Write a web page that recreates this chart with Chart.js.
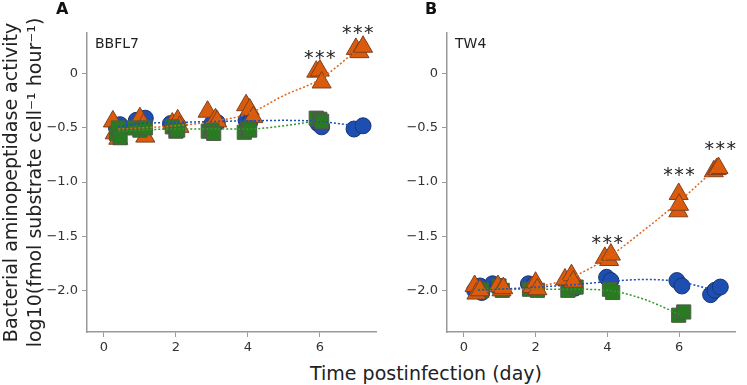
<!DOCTYPE html>
<html>
<head>
<meta charset="utf-8">
<script src="https://cdn.jsdelivr.net/npm/chart.js@4.4.1/dist/chart.umd.min.js"></script>
<style>
  body { margin: 0; background: #fff; width: 747px; height: 385px; overflow: hidden; position: relative; font-family: "DejaVu Sans", sans-serif; }
  canvas { position: absolute; top: 0; }
  #cA { left: 0; }
  #cB { left: 390px; }
  .panel { position: absolute; top: -1px; font-weight: bold; font-size: 16px; color: #111; }
  #xtitle { position: absolute; top: 362px; left: 226px; width: 400px; text-align: center; font-size: 19px; line-height: 22px; color: #222; }
</style>
</head>
<body>
<canvas id="cA" width="388" height="362"></canvas>
<canvas id="cB" width="357" height="362"></canvas>
<div class="panel" style="left:56px">A</div>
<div class="panel" style="left:425px">B</div>
<div id="xtitle">Time postinfection (day)</div>
<script>
// tick labels
const xTicks = [0, 2, 4, 6];
const yTicks = [0, -0.5, -1, -1.5, -2];

// panel A (BBFL7) replicates
const aCircleDay = [0.35, 0.45, 0.9, 1.15, 1.85, 2.05, 3.0, 3.15, 3.95, 4.05, 5.95, 6.05, 6.95, 7.2];
const aCircleVal = [-0.5, -0.47, -0.43, -0.41, -0.46, -0.47, -0.46, -0.45, -0.43, -0.45, -0.46, -0.49, -0.51, -0.48];
const aTriDay = [0.25, 0.3, 0.4, 1.0, 1.1, 1.15, 1.9, 2.05, 2.1, 2.88, 3.1, 3.15, 3.95, 4.05, 4.15, 5.9, 6.0, 6.05, 7.0, 7.1, 7.2];
const aTriVal = [-0.44, -0.55, -0.6, -0.41, -0.47, -0.58, -0.46, -0.43, -0.49, -0.35, -0.42, -0.44, -0.29, -0.33, -0.4, 0.02, 0.03, -0.08, 0.23, 0.2, 0.25];
const aSqDay = [0.35, 0.4, 0.45, 0.85, 1.0, 1.15, 1.9, 2.0, 2.05, 2.9, 3.0, 3.05, 3.9, 4.0, 4.05, 5.9, 6.0, 6.05];
const aSqVal = [-0.55, -0.5, -0.59, -0.5, -0.52, -0.5, -0.49, -0.53, -0.52, -0.53, -0.52, -0.55, -0.54, -0.5, -0.52, -0.41, -0.42, -0.44];
// panel A fitted curves
const aFitDay = [0.4, 1, 2, 3, 4, 5, 6, 7];
const aFitBlue = [-0.49, -0.46, -0.45, -0.44, -0.435, -0.43, -0.44, -0.48];
const aFitOrange = [-0.51, -0.5, -0.48, -0.44, -0.37, -0.2, -0.05, 0.21];
const aFitGreen = [-0.53, -0.52, -0.51, -0.51, -0.51, -0.48, -0.43];
const aStarDay = [6, 7.05];
const aStarVal = [0.17, 0.4];

// panel B (TW4) replicates
const bCircleDay = [0.3, 0.45, 0.5, 0.8, 0.95, 1.8, 1.95, 3.0, 3.1, 3.98, 4.1, 5.94, 6.08, 6.88, 7.0, 7.15];
const bCircleVal = [-2.0, -1.96, -2.02, -1.94, -1.96, -1.94, -1.95, -1.97, -1.98, -1.88, -1.91, -1.91, -1.96, -2.04, -2.0, -1.97];
const bTriDay = [0.3, 0.35, 0.45, 0.95, 1.05, 1.1, 1.9, 2.0, 2.05, 2.82, 3.0, 3.05, 3.93, 4.05, 4.1, 5.98, 5.99, 6.0, 6.97, 7.05, 7.1];
const bTriVal = [-1.96, -2.03, -2.0, -1.96, -2.0, -1.98, -1.97, -1.93, -1.99, -1.9, -1.86, -1.92, -1.7, -1.72, -1.67, -1.27, -1.11, -1.21, -0.9, -0.88, -0.87];
const bSqDay = [0.45, 0.5, 0.98, 1.07, 1.83, 2.05, 2.9, 3.13, 4.06, 4.15, 5.99, 6.13];
const bSqVal = [-1.99, -2.0, -1.96, -2.0, -1.99, -2.0, -2.0, -1.97, -1.99, -2.02, -2.23, -2.2];
// panel B fitted curves
const bFitDay = [0.4, 1, 2, 3, 4, 5, 6, 7];
const bFitBlue = [-2.0, -1.99, -1.97, -1.95, -1.92, -1.9, -1.92, -2.0];
const bFitOrange = [-2.01, -2.0, -1.97, -1.88, -1.7, -1.45, -1.18, -0.88];
const bFitGreen = [-1.99, -1.99, -1.99, -1.99, -2.0, -2.08, -2.22];
const bStarDay = [4, 6, 7.15];
const bStarVal = [-1.54, -0.91, -0.67];

const pts = (xs, ys) => ys.map((y, i) => ({ x: xs[i], y: y }));

const BLUE = '#1d4fb3', ORANGE = '#da5b0b', GREEN = '#2a7a22';

function markers(xs, ys, style, fill, edge, r, order) {
  return {
    data: pts(xs, ys), showLine: false, pointStyle: style, pointRadius: r,
    backgroundColor: fill, borderColor: edge, pointBorderWidth: 1, order: order
  };
}
function fit(xs, ys, color) {
  return {
    data: pts(xs, ys), showLine: true, pointRadius: 0, borderColor: color,
    borderWidth: 1.5, borderDash: [2, 2], cubicInterpolationMode: 'monotone', order: 0
  };
}

const starsPlugin = {
  id: 'stars',
  afterDatasetsDraw(chart, args, opts) {
    const c = chart.ctx, xs = chart.scales.x, ys = chart.scales.y;
    c.save();
    c.fillStyle = '#222';
    c.font = '19px "DejaVu Sans"';
    c.textAlign = 'center';
    c.textBaseline = 'middle';
    opts.days.forEach((d, i) => {
      const px = xs.getPixelForValue(d), py = ys.getPixelForValue(opts.vals[i]);
      [-11, 0, 11].forEach(dx => c.fillText('*', px + dx, py + 4));
    });
    c.font = '14px "DejaVu Sans"';
    c.textAlign = 'left';
    c.fillText(opts.name, chart.chartArea.left + 8, chart.chartArea.top + 11);
    c.restore();
  }
};

function options(yWidth, showTitle, stars) {
  const gridOpts = { drawOnChartArea: false, drawTicks: true, tickLength: 5, color: '#999' };
  return {
    responsive: false, animation: false,
    layout: { padding: { top: 33, right: 2, left: 0, bottom: 0 } },
    plugins: { legend: { display: false }, tooltip: { enabled: false }, stars: stars },
    scales: {
      x: {
        type: 'linear', min: -0.47, max: 7.56,
        grid: gridOpts, border: { color: '#999', width: 1.5 },
        ticks: { color: '#333', font: { family: 'DejaVu Sans', size: 13 }, padding: 3, maxRotation: 0 },
        afterBuildTicks: s => { s.ticks = xTicks.map(v => ({ value: v })); },
        afterFit: s => { s.height = 30; }
      },
      y: {
        type: 'linear', min: -2.385, max: 0.377,
        grid: gridOpts, border: { color: '#999', width: 1.5 },
        ticks: {
          color: '#333', font: { family: 'DejaVu Sans', size: 13 }, padding: 4,
          callback: v => v === 0 ? '0' : v.toFixed(1).replace('-', '\u2212')
        },
        title: {
          display: showTitle, color: '#222', padding: { top: 0, bottom: 0 },
          font: { family: 'DejaVu Sans', size: 19, lineHeight: 1.26 },
          text: ['Bacterial aminopeptidase activity', 'log10(fmol substrate cell\u207B\u00B9 hour\u207B\u00B9)']
        },
        afterBuildTicks: s => { s.ticks = yTicks.map(v => ({ value: v })); },
        afterFit: s => { s.width = yWidth; }
      }
    }
  };
}

new Chart(document.getElementById('cA'), {
  type: 'scatter',
  data: {
    datasets: [
      fit(aFitDay, aFitBlue, BLUE),
      fit(aFitDay, aFitOrange, '#e0651a'),
      fit(aFitDay.slice(0, aFitGreen.length), aFitGreen, '#2f9a2a'),
      markers(aSqDay, aSqVal, 'rect', GREEN, '#4d5a48', 10, 1),
      markers(aTriDay, aTriVal, 'triangle', ORANGE, '#7e4020', 11, 2),
      markers(aCircleDay, aCircleVal, 'circle', BLUE, '#1a3570', 8, 3)
    ]
  },
  options: options(87, true, { days: aStarDay, vals: aStarVal, name: 'BBFL7' }),
  plugins: [starsPlugin]
});

const optB = options(57, false, { days: bStarDay, vals: bStarVal, name: 'TW4' });
optB.layout.padding.right = 0;
new Chart(document.getElementById('cB'), {
  type: 'scatter',
  data: {
    datasets: [
      fit(bFitDay, bFitBlue, BLUE),
      fit(bFitDay, bFitOrange, '#e0651a'),
      fit(bFitDay.slice(0, bFitGreen.length), bFitGreen, '#2f9a2a'),
      markers(bTriDay, bTriVal, 'triangle', ORANGE, '#7e4020', 11, 1),
      markers(bSqDay, bSqVal, 'rect', GREEN, '#4d5a48', 10, 2),
      markers(bCircleDay, bCircleVal, 'circle', BLUE, '#1a3570', 8, 3)
    ]
  },
  options: optB,
  plugins: [starsPlugin]
});
</script>
</body>
</html>
